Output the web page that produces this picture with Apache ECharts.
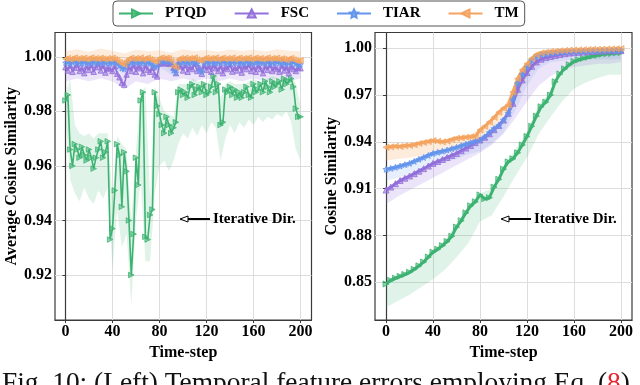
<!DOCTYPE html>
<html><head><meta charset="utf-8">
<script src="https://cdn.jsdelivr.net/npm/echarts@6/dist/echarts.min.js"></script>
<style>html,body{margin:0;padding:0;background:#fff}#c{width:640px;height:385px}</style>
</head><body><div id="c"></div>
<script>
// ---------- categories / ticks ----------
const seriesNames = ['PTQD', 'FSC', 'TIAR', 'TM'];
const xTicks = [0, 40, 80, 120, 160, 200];
const leftYTicks = [0.92, 0.94, 0.96, 0.98, 1.00];
const rightYTicks = [0.85, 0.88, 0.91, 0.94, 0.97, 1.00];
const xTitle = 'Time-step';
const leftYTitle = 'Average Cosine Similarity';
const rightYTitle = 'Cosine Similarity';
const annotation = 'Iterative Dir.';

// ---------- LEFT: time-steps 0,2,...,200 ----------
const leftSteps = Array.from({length: 101}, (_, i) => i * 2);
const leftPTQD = [0.984,0.986,0.966,0.960,0.968,0.966,0.963,0.967,0.964,0.962,
  0.966,0.963,0.959,0.963,0.966,0.969,0.963,0.965,0.969,0.933,
  0.937,0.951,0.968,0.964,0.945,0.965,0.958,0.940,0.920,0.935,
  0.963,0.953,0.984,0.987,0.934,0.933,0.942,0.944,0.987,0.982,
  0.979,0.975,0.972,0.978,0.975,0.972,0.974,0.976,0.987,0.988,
  0.986,0.987,0.985,0.989,0.990,0.986,0.988,0.989,0.987,0.990,
  0.986,0.987,0.989,0.993,0.987,0.990,0.975,0.976,0.988,0.987,
  0.989,0.986,0.988,0.985,0.987,0.985,0.987,0.989,0.986,0.985,
  0.990,0.987,0.988,0.990,0.987,0.991,0.989,0.987,0.991,0.989,
  0.990,0.991,0.988,0.992,0.990,0.991,0.992,0.989,0.981,0.978,0.978];
const leftFSC = [0.9962,0.9950,0.9968,0.9945,0.9960,0.9972,0.9948,0.9958,0.9940,0.9965,
  0.9952,0.9970,0.9945,0.9962,0.9975,0.9950,0.9968,0.9942,0.9960,0.9955,
  0.9948,0.9965,0.9938,0.9925,0.9905,0.9898,0.9935,0.9962,0.9948,0.9970,
  0.9945,0.9965,0.9958,0.9940,0.9968,0.9952,0.9945,0.9960,0.9935,0.9928,
  0.9975,0.9978,0.9976,0.9977,0.9975,0.9976,0.9960,0.9940,0.9972,0.9965,
  0.9950,0.9970,0.9945,0.9962,0.9955,0.9975,0.9948,0.9960,0.9938,0.9968,
  0.9952,0.9965,0.9945,0.9970,0.9958,0.9948,0.9966,0.9940,0.9962,0.9955,
  0.9972,0.9946,0.9960,0.9950,0.9968,0.9942,0.9965,0.9955,0.9972,0.9948,
  0.9962,0.9945,0.9968,0.9955,0.9940,0.9965,0.9952,0.9970,0.9948,0.9962,
  0.9955,0.9945,0.9968,0.9950,0.9962,0.9940,0.9965,0.9955,0.9948,0.9960,0.9958];
const leftTIAR = [0.9978,0.9982,0.9975,0.9980,0.9984,0.9977,0.9981,0.9976,0.9983,0.9979,
  0.9975,0.9982,0.9978,0.9984,0.9976,0.9980,0.9983,0.9977,0.9981,0.9975,
  0.9979,0.9983,0.9976,0.9968,0.9958,0.9955,0.9972,0.9980,0.9977,0.9983,
  0.9978,0.9981,0.9976,0.9982,0.9978,0.9980,0.9975,0.9972,0.9962,0.9966,
  0.9982,0.9985,0.9983,0.9984,0.9982,0.9978,0.9950,0.9942,0.9975,0.9982,
  0.9978,0.9983,0.9976,0.9981,0.9979,0.9983,0.9975,0.9950,0.9945,0.9978,
  0.9982,0.9977,0.9983,0.9979,0.9976,0.9981,0.9978,0.9984,0.9977,0.9980,
  0.9975,0.9982,0.9978,0.9983,0.9976,0.9980,0.9977,0.9983,0.9979,0.9975,
  0.9981,0.9978,0.9984,0.9976,0.9980,0.9977,0.9982,0.9975,0.9980,0.9978,
  0.9983,0.9976,0.9981,0.9978,0.9972,0.9980,0.9976,0.9982,0.9974,0.9970,0.9972];
const leftTM = [0.9992,0.9995,0.9990,0.9994,0.9997,0.9991,0.9995,0.9993,0.9996,0.9990,
  0.9994,0.9997,0.9992,0.9995,0.9991,0.9996,0.9993,0.9990,0.9995,0.9992,
  0.9996,0.9991,0.9988,0.9980,0.9974,0.9972,0.9985,0.9993,0.9996,0.9991,
  0.9995,0.9992,0.9997,0.9990,0.9994,0.9996,0.9991,0.9988,0.9982,0.9986,
  0.9995,0.9997,0.9993,0.9996,0.9994,0.9985,0.9965,0.9960,0.9990,0.9995,
  0.9992,0.9996,0.9991,0.9995,0.9993,0.9997,0.9990,0.9986,0.9988,0.9994,
  0.9996,0.9991,0.9995,0.9993,0.9997,0.9990,0.9994,0.9996,0.9991,0.9995,
  0.9992,0.9997,0.9990,0.9994,0.9996,0.9991,0.9995,0.9993,0.9997,0.9990,
  0.9994,0.9996,0.9992,0.9995,0.9990,0.9994,0.9997,0.9991,0.9995,0.9993,
  0.9996,0.9990,0.9994,0.9992,0.9987,0.9993,0.9995,0.9990,0.9986,0.9984,0.9987];

// left spread bands
const leftBandStepsFine = Array.from({length: 51}, (_, i) => i * 4);
const leftPTQDHigh = [0.986,0.992,0.975,0.972,0.971,0.972,0.970,0.972,0.972,0.972,
  0.948,0.971,0.968,0.966,0.940,0.966,0.987,0.989,0.948,0.989,
  0.985,0.980,0.979,0.978,0.990,0.990,0.990,0.992,0.991,0.991,
  0.990,0.992,0.994,0.985,0.990,0.991,0.990,0.990,0.990,0.991,
  0.992,0.991,0.991,0.992,0.993,0.992,0.992,0.993,0.994,0.990,0.982];
const leftPTQDLow = [0.978,0.955,0.950,0.947,0.952,0.948,0.946,0.951,0.948,0.952,
  0.922,0.944,0.930,0.935,0.909,0.940,0.955,0.925,0.925,0.950,
  0.960,0.962,0.958,0.962,0.968,0.972,0.970,0.974,0.971,0.975,
  0.972,0.976,0.974,0.962,0.970,0.975,0.972,0.976,0.974,0.977,
  0.975,0.978,0.976,0.978,0.977,0.979,0.978,0.980,0.976,0.966,0.962];
const leftBandStepsCoarse = [0,10,20,30,40,50,60,70,80,90,100,110,120,130,140,150,160,170,180,190,200];
const leftFSCHigh = [0.9985,0.9986,0.9984,0.9986,0.9985,0.9980,0.9986,0.9984,0.9988,0.9986,0.9985,0.9986,0.9984,0.9986,0.9985,0.9986,0.9984,0.9986,0.9985,0.9986,0.9984];
const leftFSCLow = [0.991,0.992,0.991,0.992,0.991,0.988,0.991,0.990,0.992,0.991,0.992,0.991,0.992,0.991,0.992,0.991,0.992,0.991,0.992,0.991,0.992];
const leftTIARHigh = [0.9992,0.9993,0.9991,0.9993,0.9992,0.9988,0.9993,0.9991,0.9994,0.9990,0.9992,0.9993,0.9991,0.9993,0.9992,0.9993,0.9991,0.9993,0.9992,0.9991,0.9990];
const leftTIARLow = [0.9955,0.9958,0.9954,0.9957,0.9955,0.9940,0.9956,0.9950,0.9962,0.9935,0.9956,0.9954,0.9950,0.9957,0.9955,0.9958,0.9954,0.9957,0.9955,0.9952,0.9950];
const leftTMHigh = [1.0020,1.0028,1.0018,1.0030,1.0022,1.0012,1.0026,1.0020,1.0024,1.0015,1.0028,1.0020,1.0025,1.0018,1.0027,1.0021,1.0026,1.0019,1.0028,1.0022,1.0020];
const leftTMLow = [0.9980,0.9982,0.9979,0.9982,0.9980,0.9962,0.9981,0.9976,0.9983,0.9950,0.9981,0.9979,0.9980,0.9982,0.9980,0.9981,0.9979,0.9982,0.9980,0.9975,0.9976];

// ---------- RIGHT: time-steps 0,4,...,200 ----------
const rightSteps = Array.from({length: 51}, (_, i) => i * 4);
const rightPTQD = [0.8489,0.8512,0.8526,0.8538,0.8550,0.8564,0.8583,0.8605,0.8630,0.8662,
  0.8693,0.8712,0.8735,0.8762,0.8795,0.8854,0.8895,0.8945,0.8990,0.9016,
  0.9060,0.9035,0.9042,0.9110,0.9160,0.9225,0.9272,0.9292,0.9330,0.9380,
  0.9435,0.9500,0.9565,0.9625,0.9655,0.9700,0.9785,0.9835,0.9868,0.9895,
  0.9915,0.9926,0.9935,0.9942,0.9950,0.9955,0.9962,0.9965,0.9967,0.9970,0.9972];
const rightFSC = [0.9091,0.9110,0.9132,0.9152,0.9167,0.9181,0.9196,0.9212,0.9228,0.9245,
  0.9262,0.9274,0.9287,0.9300,0.9313,0.9326,0.9343,0.9360,0.9377,0.9395,
  0.9412,0.9429,0.9452,0.9478,0.9505,0.9540,0.9583,0.9647,0.9737,0.9797,
  0.9844,0.9884,0.9912,0.9930,0.9940,0.9947,0.9954,0.9960,0.9965,0.9969,
  0.9972,0.9974,0.9976,0.9978,0.9980,0.9981,0.9982,0.9983,0.9984,0.9985,0.9985];
const rightTIAR = [0.9224,0.9230,0.9237,0.9245,0.9254,0.9262,0.9275,0.9288,0.9300,0.9313,
  0.9326,0.9333,0.9340,0.9347,0.9356,0.9365,0.9375,0.9385,0.9395,0.9404,
  0.9412,0.9432,0.9460,0.9486,0.9505,0.9540,0.9583,0.9670,0.9775,0.9830,
  0.9878,0.9922,0.9946,0.9959,0.9964,0.9968,0.9971,0.9974,0.9976,0.9978,
  0.9980,0.9981,0.9982,0.9983,0.9984,0.9985,0.9986,0.9986,0.9987,0.9987,0.9988];
const rightTM = [0.9365,0.9368,0.9372,0.9370,0.9375,0.9377,0.9382,0.9390,0.9396,0.9402,
  0.9408,0.9404,0.9400,0.9405,0.9415,0.9423,0.9426,0.9430,0.9432,0.9436,
  0.9476,0.9500,0.9527,0.9557,0.9590,0.9615,0.9636,0.9720,0.9805,0.9862,
  0.9900,0.9935,0.9960,0.9970,0.9975,0.9979,0.9981,0.9984,0.9986,0.9988,
  0.9989,0.9990,0.9991,0.9992,0.9993,0.9993,0.9994,0.9995,0.9996,0.9997,0.9998];

// right spread bands (every 10 steps)
const rightBandSteps = [0,10,20,30,40,50,60,70,80,90,100,110,120,130,140,150,160,170,180,190,200];
const rightPTQDHigh = [0.851,0.855,0.858,0.863,0.871,0.877,0.887,0.899,0.907,0.910,0.924,0.935,0.946,0.964,0.972,0.986,0.992,0.994,0.996,0.997,0.997];
const rightPTQDLow = [0.834,0.838,0.842,0.847,0.852,0.858,0.866,0.875,0.889,0.893,0.905,0.918,0.930,0.945,0.956,0.966,0.974,0.978,0.981,0.983,0.983];
const rightFSCHigh = [0.910,0.915,0.919,0.923,0.927,0.930,0.933,0.937,0.942,0.947,0.955,0.972,0.985,0.993,0.995,0.997,0.998,0.998,0.998,0.999,0.999];
const rightFSCLow = [0.900,0.905,0.909,0.913,0.917,0.921,0.925,0.929,0.933,0.938,0.945,0.955,0.966,0.976,0.982,0.986,0.988,0.989,0.990,0.990,0.991];
const rightTIARHigh = [0.923,0.925,0.927,0.930,0.933,0.935,0.937,0.940,0.942,0.948,0.955,0.974,0.988,0.996,0.997,0.998,0.998,0.999,0.999,0.999,0.999];
const rightTIARLow = [0.915,0.917,0.919,0.922,0.925,0.927,0.929,0.932,0.934,0.939,0.946,0.960,0.976,0.987,0.991,0.992,0.993,0.993,0.993,0.993,0.993];
const rightTMHigh = [0.937,0.937,0.938,0.939,0.941,0.940,0.943,0.944,0.948,0.955,0.962,0.977,0.991,0.997,0.998,0.999,0.999,0.999,1.000,1.000,1.000];
const rightTMLow = [0.928,0.929,0.930,0.931,0.933,0.933,0.935,0.937,0.939,0.944,0.952,0.966,0.982,0.992,0.995,0.996,0.996,0.997,0.997,0.997,0.997];

// ---------- styles ----------
const colors = {PTQD: '#3cb371', FSC: '#9370db', TIAR: '#6495ed', TM: '#f4a460'};
const fills = {PTQD: 'rgba(60,179,113,0.55)', FSC: 'rgba(147,112,219,0.55)', TIAR: 'rgba(100,149,237,0.55)', TM: 'rgba(244,164,96,0.55)'};
const bandFills = {PTQD: 'rgba(60,179,113,0.16)', FSC: 'rgba(147,112,219,0.18)', TIAR: 'rgba(100,149,237,0.15)', TM: 'rgba(244,164,96,0.22)'};
const starPath = 'path://M0,-10 L2.9,-4 L9.5,-3.1 L4.7,1.5 L5.9,8.1 L0,5 L-5.9,8.1 L-4.7,1.5 L-9.5,-3.1 L-2.9,-4 Z';
const symbols = {PTQD: ['triangle', -90], FSC: ['triangle', 0], TIAR: [starPath, 0], TM: ['triangle', 90]};
const serif = '"Liberation Serif","DejaVu Serif",serif';

function zip(xs, ys) { return xs.map((x, i) => [x, ys[i]]); }

function lineSeries(name, gi, xs, ys, size, width) {
  return {
    type: 'line', name: name, xAxisIndex: gi, yAxisIndex: gi,
    data: zip(xs, ys), symbol: symbols[name][0], symbolRotate: symbols[name][1],
    symbolSize: size, showSymbol: true, z: 5, silent: true,
    lineStyle: {color: colors[name], width: width},
    itemStyle: {color: fills[name], borderColor: colors[name], borderWidth: 0.8},
    emphasis: {disabled: true}
  };
}

function bandSeries(name, gi, xs, lo, hi) {
  return {
    type: 'custom', name: name + ' band', xAxisIndex: gi, yAxisIndex: gi,
    silent: true, z: 2, clip: true,
    data: xs.map((x, i) => [x, lo[i], hi[i]]),
    encode: {x: 0, y: [1, 2]},
    renderItem: function (params, api) {
      if (params.dataIndex !== 0) return null;
      const pts = [];
      for (let i = 0; i < xs.length; i++) pts.push(api.coord([xs[i], hi[i]]));
      for (let i = xs.length - 1; i >= 0; i--) pts.push(api.coord([xs[i], lo[i]]));
      return {type: 'polygon', shape: {points: pts}, style: {fill: bandFills[name], stroke: null}};
    }
  };
}

const tickFont = {fontFamily: serif, fontWeight: 'bold', fontSize: 16, color: '#000'};
const titleFont = {fontFamily: serif, fontWeight: 'bold', fontSize: 16, color: '#000'};
const frame = '#3a3a3a';

function xAxis(gi, min, max) {
  return {
    type: 'value', gridIndex: gi, min: min, max: max,
    name: xTitle, nameLocation: 'middle', nameGap: 19, nameTextStyle: titleFont,
    axisLine: {show: true, lineStyle: {color: frame, width: 1.2}},
    axisTick: {show: true, length: 3, customValues: xTicks, lineStyle: {color: frame}},
    axisLabel: {customValues: xTicks, margin: 4, ...tickFont},
    splitLine: {show: true, lineStyle: {color: '#dddddd', width: 1}}
  };
}
function yAxis(gi, min, max, ticks, title, gap) {
  return {
    type: 'value', gridIndex: gi, min: min, max: max,
    name: title, nameLocation: 'middle', nameGap: gap, nameTextStyle: titleFont,
    axisLine: {show: true, lineStyle: {color: frame, width: 1.2}},
    axisTick: {show: true, length: 3, customValues: ticks, lineStyle: {color: frame}},
    axisLabel: {customValues: ticks, margin: 3, ...tickFont,
      formatter: v => v.toFixed(2)},
    splitLine: {show: true, lineStyle: {color: '#dddddd', width: 1}}
  };
}

const series = [];
const leftBands = [
  ['PTQD', leftBandStepsFine, leftPTQDLow, leftPTQDHigh],
  ['FSC', leftBandStepsCoarse, leftFSCLow, leftFSCHigh],
  ['TIAR', leftBandStepsCoarse, leftTIARLow, leftTIARHigh],
  ['TM', leftBandStepsCoarse, leftTMLow, leftTMHigh]];
leftBands.forEach(b => series.push(bandSeries(b[0], 0, b[1], b[2], b[3])));
const rightBands = [
  ['PTQD', rightPTQDLow, rightPTQDHigh], ['FSC', rightFSCLow, rightFSCHigh],
  ['TIAR', rightTIARLow, rightTIARHigh], ['TM', rightTMLow, rightTMHigh]];
rightBands.forEach(b => series.push(bandSeries(b[0], 1, rightBandSteps, b[1], b[2])));
const leftVals = {PTQD: leftPTQD, FSC: leftFSC, TIAR: leftTIAR, TM: leftTM};
const rightVals = {PTQD: rightPTQD, FSC: rightFSC, TIAR: rightTIAR, TM: rightTM};
seriesNames.forEach(n => series.push(lineSeries(n, 0, leftSteps, leftVals[n], 5.5, 1.6)));
seriesNames.forEach(n => series.push(lineSeries(n, 1, rightSteps, rightVals[n], 6, 3)));

const chart = echarts.init(document.getElementById('c'), null, {renderer: 'canvas'});
chart.setOption({
  animation: false,
  backgroundColor: '#fff',
  legend: {
    data: seriesNames, left: 113, top: 1, orient: 'horizontal',
    itemWidth: 34, itemHeight: 10, itemGap: 27,
    padding: [5, 6, 5, 5],
    borderColor: '#555', borderWidth: 1, borderRadius: 4, backgroundColor: '#fff',
    textStyle: {fontFamily: serif, fontWeight: 'bold', fontSize: 15, color: '#000', padding: [0, 0, 0, 7]}
  },
  grid: [
    {left: 55, top: 32.5, width: 256.5, height: 287.5, show: true, borderColor: frame, borderWidth: 1.2, backgroundColor: 'transparent', containLabel: false, outerBoundsMode: 'none'},
    {left: 375, top: 32.5, width: 257, height: 287.5, show: true, borderColor: frame, borderWidth: 1.2, backgroundColor: 'transparent', containLabel: false, outerBoundsMode: 'none'}
  ],
  xAxis: [xAxis(0, -8.9, 209.3), xAxis(1, -9.4, 209.4)],
  yAxis: [yAxis(0, 0.9035, 1.0089, leftYTicks, leftYTitle, 26), yAxis(1, 0.8258, 1.0101, rightYTicks, rightYTitle, 28)],
  series: series,
  graphic: [
    {type: 'polyline', shape: {points: [[188, 219], [210, 219]]}, style: {stroke: '#000', lineWidth: 2}, z: 20},
    {type: 'polygon', shape: {points: [[180, 219], [188, 216], [188, 222]]}, style: {fill: '#fff', stroke: '#000', lineWidth: 1}, z: 20},
    {type: 'text', x: 213, y: 219, style: {text: annotation, font: 'bold 15px ' + serif, fill: '#000', textVerticalAlign: 'middle', verticalAlign: 'middle'}, z: 20},
    {type: 'polyline', shape: {points: [[509, 219], [531, 219]]}, style: {stroke: '#000', lineWidth: 2}, z: 20},
    {type: 'polygon', shape: {points: [[501, 219], [509, 216], [509, 222]]}, style: {fill: '#fff', stroke: '#000', lineWidth: 1}, z: 20},
    {type: 'text', x: 534, y: 219, style: {text: annotation, font: 'bold 15px ' + serif, fill: '#000', textVerticalAlign: 'middle', verticalAlign: 'middle'}, z: 20},
    {type: 'text', x: 2, y: 397, style: {
      text: '{a|Fig. 10: (Left) Temporal feature errors employing Eq. (}{r|8}{a|)}',
      verticalAlign: 'bottom', textVerticalAlign: 'bottom',
      rich: {a: {font: '27.4px ' + serif, fill: '#111'}, r: {font: '27.4px ' + serif, fill: '#e8222a'}}
    }, z: 20}
  ]
});
</script></body></html>
